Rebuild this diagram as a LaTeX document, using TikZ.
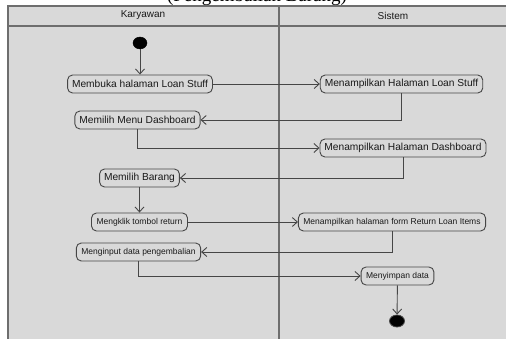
\documentclass[tikz,border=0pt]{standalone}
\usepackage{fontspec}
\setmainfont{Liberation Sans}
\newfontfamily\captionserif{Liberation Serif}
\usetikzlibrary{arrows.meta,shapes.geometric}
\definecolor{lanebg}{RGB}{217,217,217}
\definecolor{laneline}{RGB}{110,110,110}
\definecolor{flowline}{RGB}{70,70,70}
\definecolor{inktext}{RGB}{25,25,25}
\tikzset{
  act/.style={draw=flowline, line width=0.9pt, rounded corners=5pt, fill=lanebg,
    text=inktext, inner xsep=4.5pt, inner ysep=0pt, minimum height=18pt,
    font=\fontsize{10.2}{12}\selectfont},
  actsmall/.style={act, font=\fontsize{8.5}{10}\selectfont, inner xsep=5pt},
  flow/.style={draw=flowline, line width=0.9pt, -{Straight Barb[length=5pt,width=9pt]}},
  lanehead/.style={text=inktext, font=\fontsize{10}{12}\selectfont},
  initial/.style={ellipse, fill=black, draw=black, inner sep=0pt, minimum width=14pt, minimum height=12pt},
  final/.style={ellipse, fill=black, draw=flowline, line width=0.8pt, inner sep=0pt, minimum width=15pt, minimum height=12pt}
}
\begin{document}
\begin{tikzpicture}[x=1pt,y=-1pt]
\useasboundingbox (0,0) rectangle (506,339);
\begin{scope}
\clip (0,0) rectangle (506,339);
% caption line above the swimlanes, mostly cut off by the page edge
\begin{scope}
\clip (0,0) rectangle (506,6);
\node[anchor=base, inner sep=0pt, font=\captionserif\fontsize{19}{22}\selectfont] (caption) at (257,1.5) {(Pengembalian Barang)};
\end{scope}
% swimlane frame
\fill[lanebg] (8,6) rectangle (512,345);
\draw[laneline, line width=1.3pt] (512,6) -- (8,6) -- (8,345);
\draw[laneline, line width=1.3pt] (8,26) -- (512,26);
\draw[laneline, line width=1.3pt] (279,6) -- (279,345);
\node[lanehead] (hk) at (143,15.5) {Karyawan};
\node[lanehead] (hs) at (393,15.5) {Sistem};

% activities
\node[initial] (start) at (140,43) {};
\node[act] (m1) at (140,84) {Membuka halaman Loan Stuff};
\node[act] (m2) at (137.5,120) {Memilih Menu Dashboard};
\node[act] (m3) at (139.5,178) {Memilih Barang};
\node[actsmall] (m4) at (139.5,222) {Mengklik tombol return};
\node[actsmall] (m5) at (138.5,252) {Menginput data pengembalian};
\node[act] (s1) at (401.5,84) {Menampilkan Halaman Loan Stuff};
\node[act] (s2) at (403,148) {Menampilkan Halaman Dashboard};
\node[actsmall] (s3) at (392,222) {Menampilkan halaman form Return Loan Items};
\node[actsmall] (s4) at (397.5,276) {Menyimpan data};
\node[final] (end) at (397,321) {};

% control flow
\draw[flow] (start) -- (m1);
\draw[flow] (m1) -- (s1);
\draw[flow] (s1.south) |- (m2.east);
\draw[flow] (m2.south) |- (s2.west);
\draw[flow] (s2.south) |- (m3.east);
\draw[flow] (m3) -- (m4);
\draw[flow] (m4) -- (s3);
\draw[flow] (s3.south) |- (m5.east);
\draw[flow] (m5.south) |- (s4.west);
\draw[flow] (s4) -- (end);
\end{scope}
\end{tikzpicture}
\end{document}
